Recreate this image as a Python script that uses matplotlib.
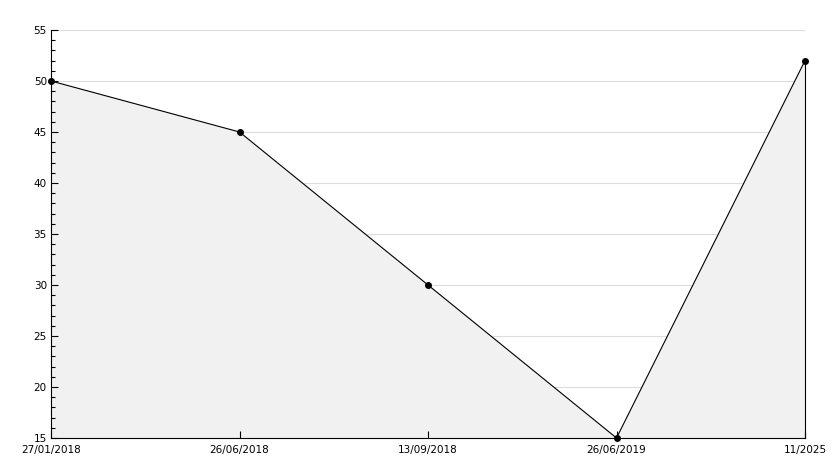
import matplotlib
matplotlib.use("Agg")
import matplotlib.pyplot as plt
from matplotlib.ticker import MultipleLocator

# data
labels = ["27/01/2018", "26/06/2018", "13/09/2018", "26/06/2019", "11/2025"]
values = [50, 45, 30, 15, 52]
gridlines = [20, 25, 30, 35, 40, 45, 50, 55]

x = list(range(len(labels)))

fig = plt.figure(figsize=(8.34, 4.68), dpi=100)
ax = fig.add_axes([51 / 834, 30 / 468, 754 / 834, 408 / 468])

# rasterlijnen onder de vulling
for g in gridlines:
    ax.axhline(g, color="#dddddd", lw=0.8, zorder=0.5)

# grijze vulling en lijn
ax.fill_between(x, values, 15, color="#f1f1f1", zorder=1)
ax.plot([x[-1], x[-1]], [15, values[-1]], color="black", lw=0.8, zorder=2, clip_on=False)
ax.plot(x, values, color="black", lw=0.8, marker="o", markersize=4, zorder=3, clip_on=False)

ax.set_xlim(0, len(labels) - 1)
ax.set_ylim(15, 55)
ax.set_xticks(x)
ax.set_xticklabels(labels)
ax.yaxis.set_major_locator(MultipleLocator(5))
ax.yaxis.set_minor_locator(MultipleLocator(1))

for side in ["top", "right"]:
    ax.spines[side].set_visible(False)
ax.spines["left"].set_linewidth(0.8)
ax.spines["bottom"].set_linewidth(0.8)
ax.spines["left"].set_zorder(4)
ax.spines["bottom"].set_zorder(4)

ax.tick_params(axis="both", which="major", direction="in", length=5, width=0.8, labelsize=7.5)
ax.tick_params(axis="x", which="major", pad=5)
ax.tick_params(axis="y", which="major", pad=3)
ax.tick_params(axis="y", which="minor", direction="in", length=3, width=0.8)

plt.savefig("out.png", dpi=100)
